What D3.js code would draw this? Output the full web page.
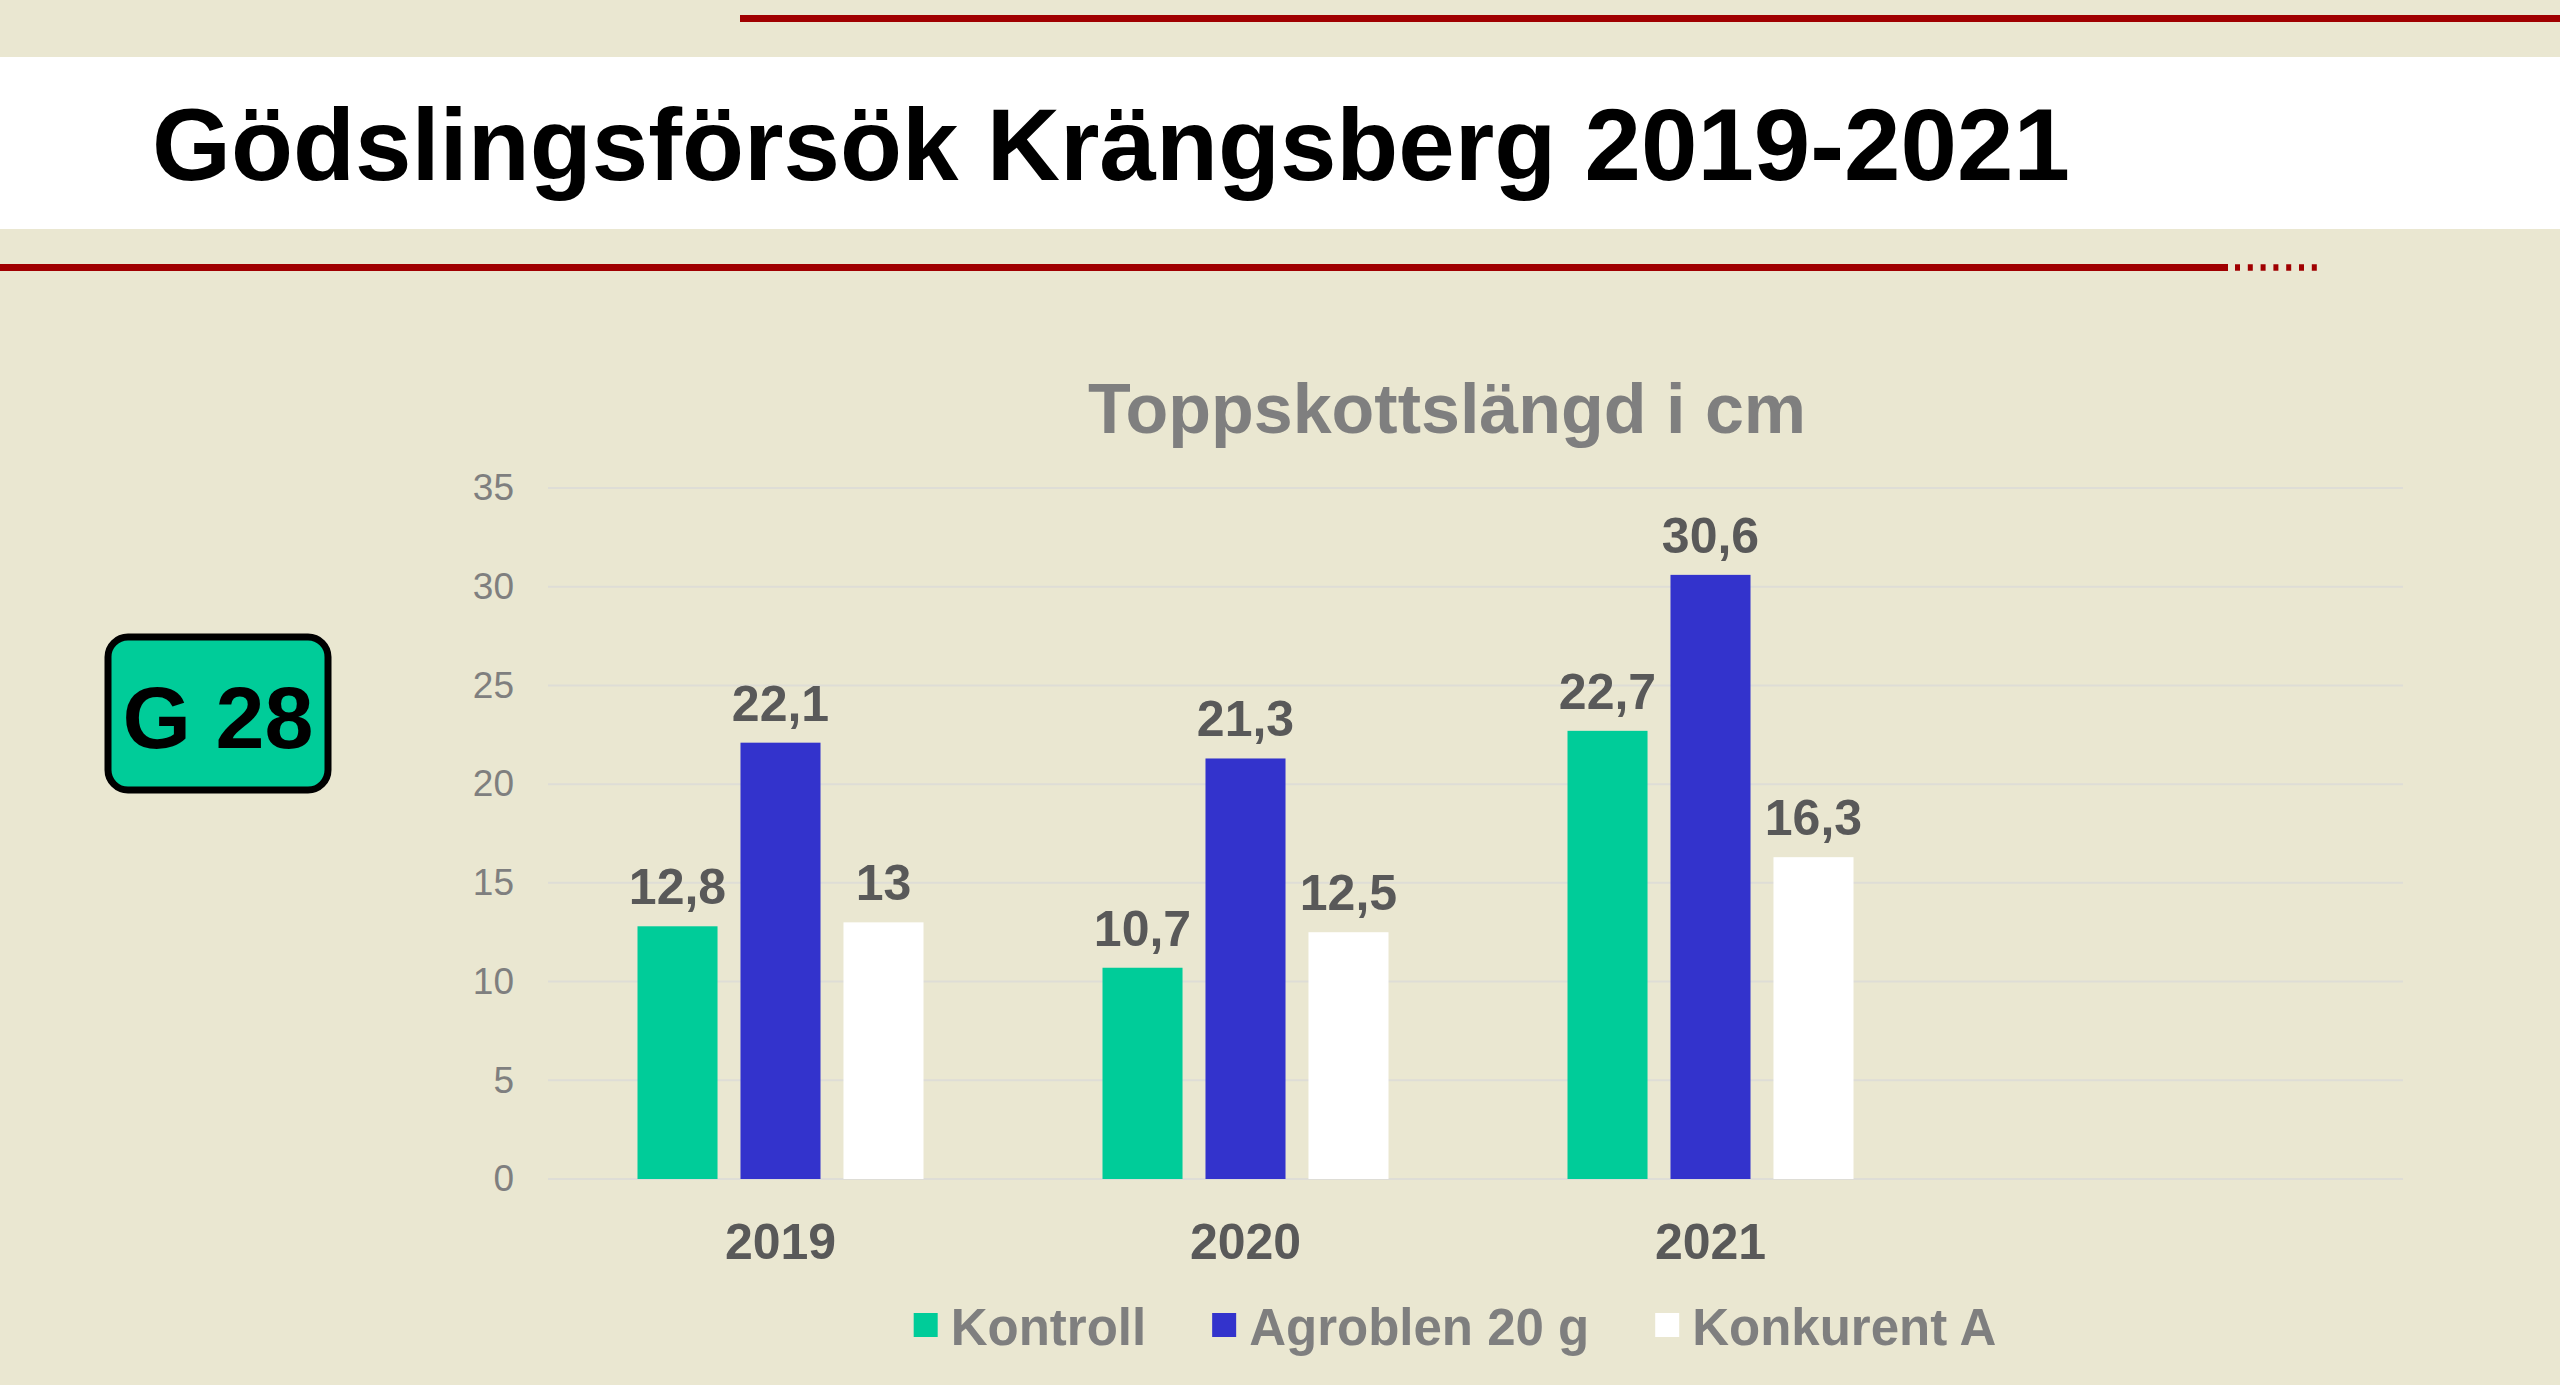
<!DOCTYPE html>
<html>
<head>
<meta charset="utf-8">
<script src="https://cdn.jsdelivr.net/npm/d3@7"></script>
<style>
  html, body { margin: 0; padding: 0; background: #EAE7D1; }
  svg { display: block; }
  text { font-family: "Liberation Sans", Arial, sans-serif; }
</style>
</head>
<body>
<svg id="chart" width="2560" height="1385"></svg>
<script>
// ---- data ----
const years = ["2019", "2020", "2021"];
const seriesNames = ["Kontroll", "Agroblen 20 g", "Konkurent A"];
const kontroll = [12.8, 10.7, 22.7];
const agroblen = [22.1, 21.3, 30.6];
const konkurent = [13, 12.5, 16.3];
const seriesColors = ["#00CC99", "#3333CC", "#FFFFFF"];
const yTicks = [0, 5, 10, 15, 20, 25, 30, 35];
const pageTitle = "Gödslingsförsök Krängsberg 2019-2021";
const chartTitle = "Toppskottslängd i cm";
const badgeLabel = "G 28";

const seriesValues = [kontroll, agroblen, konkurent];
const rows = years.map((y, i) => ({
  year: y,
  values: seriesNames.map((s, j) => ({ series: s, value: seriesValues[j][i], color: seriesColors[j] }))
}));

const svg = d3.select("#chart");
const W = 2560, H = 1385;

// background
svg.append("rect").attr("x", 0).attr("y", 0).attr("width", W).attr("height", H).attr("fill", "#EAE7D1");

// decorative header
const red = "#A00000";
svg.append("rect").attr("x", 740).attr("y", 15).attr("width", W - 740).attr("height", 7).attr("fill", red);
svg.append("rect").attr("x", 0).attr("y", 57).attr("width", W).attr("height", 172).attr("fill", "#FFFFFF");
svg.append("rect").attr("x", 0).attr("y", 264).attr("width", 2228).attr("height", 7).attr("fill", red);
svg.append("line").attr("x1", 2235).attr("x2", 2320).attr("y1", 267.5).attr("y2", 267.5)
  .attr("stroke", red).attr("stroke-width", 6.5).attr("stroke-dasharray", "5 7.8");

svg.append("text").attr("x", 152).attr("y", 180)
  .attr("font-size", 101.5).attr("font-weight", "bold").attr("fill", "#000")
  .text(pageTitle);

// badge
svg.append("rect").attr("x", 108).attr("y", 637).attr("width", 220).attr("height", 153)
  .attr("rx", 20).attr("ry", 20).attr("fill", "#00CC99").attr("stroke", "#000").attr("stroke-width", 7);
svg.append("text").attr("x", 218).attr("y", 748).attr("text-anchor", "middle")
  .attr("font-size", 88).attr("font-weight", "bold").attr("fill", "#000").text(badgeLabel);

// chart
const plotLeft = 548, plotRight = 2403, plotTop = 488, plotBottom = 1179;
const bandW = 465;

const y = d3.scaleLinear().domain([0, 35]).range([plotBottom, plotTop]);
const x0 = d3.scaleBand().domain(years).range([plotLeft, plotLeft + bandW * years.length]).padding(0);
const x1 = d3.scaleBand().domain(seriesNames).range([89.5, bandW - 89.5]).paddingInner(0.223).paddingOuter(0);

// gridlines
svg.append("g").selectAll("line").data(yTicks).join("line")
  .attr("x1", plotLeft).attr("x2", plotRight)
  .attr("y1", d => y(d)).attr("y2", d => y(d))
  .attr("stroke", "#DEDDD6").attr("stroke-width", 2);

// y axis labels
const yAxis = d3.axisLeft(y).tickValues(yTicks).tickSize(0).tickPadding(0);
const yg = svg.append("g").attr("transform", `translate(514,0)`).call(yAxis);
yg.select(".domain").remove();
yg.selectAll("text").attr("font-size", 37).attr("fill", "#7F7F7F")
  .attr("font-family", "Liberation Sans, Arial, sans-serif");

// chart title
svg.append("text").attr("x", 1447).attr("y", 433).attr("text-anchor", "middle")
  .attr("font-size", 70).attr("font-weight", "bold").attr("fill", "#7F7F7F").text(chartTitle);

// bars
const groups = svg.append("g").selectAll("g").data(rows).join("g")
  .attr("transform", d => `translate(${x0(d.year)},0)`);
groups.selectAll("rect").data(d => d.values).join("rect")
  .attr("x", d => x1(d.series)).attr("width", x1.bandwidth())
  .attr("y", d => y(d.value)).attr("height", d => y(0) - y(d.value))
  .attr("fill", d => d.color);
const fmt = v => String(v).replace(".", ",");
groups.selectAll("text").data(d => d.values).join("text")
  .attr("x", d => x1(d.series) + x1.bandwidth() / 2)
  .attr("y", d => y(d.value) - 22)
  .attr("text-anchor", "middle").attr("font-size", 50).attr("font-weight", "bold")
  .attr("fill", "#595959").text(d => fmt(d.value));

// x axis labels
const xAxis = d3.axisBottom(x0).tickSize(0).tickPadding(0);
const xg = svg.append("g").attr("transform", `translate(0,${plotBottom})`).call(xAxis);
xg.select(".domain").remove();
xg.selectAll("text").attr("font-size", 50).attr("font-weight", "bold").attr("fill", "#595959")
  .attr("font-family", "Liberation Sans, Arial, sans-serif")
  .attr("dy", null).attr("y", 80);

// legend
const legend = svg.append("g");
const items = legend.selectAll("g").data(seriesNames).join("g");
items.append("rect").attr("width", 24).attr("height", 24).attr("y", 1313)
  .attr("fill", (d, i) => seriesColors[i]);
items.append("text").attr("x", 37).attr("y", 1345).attr("font-size", 51).attr("font-weight", "bold")
  .attr("fill", "#7F7F7F").text(d => d);
const widths = [];
items.each(function () { widths.push(37 + this.querySelector("text").getComputedTextLength()); });
const gapItems = 66;
const total = d3.sum(widths) + gapItems * (widths.length - 1);
let cx = 1455 - total / 2;
items.each(function (d, i) {
  d3.select(this).attr("transform", `translate(${cx},0)`);
  cx += widths[i] + gapItems;
});
</script>
</body>
</html>
